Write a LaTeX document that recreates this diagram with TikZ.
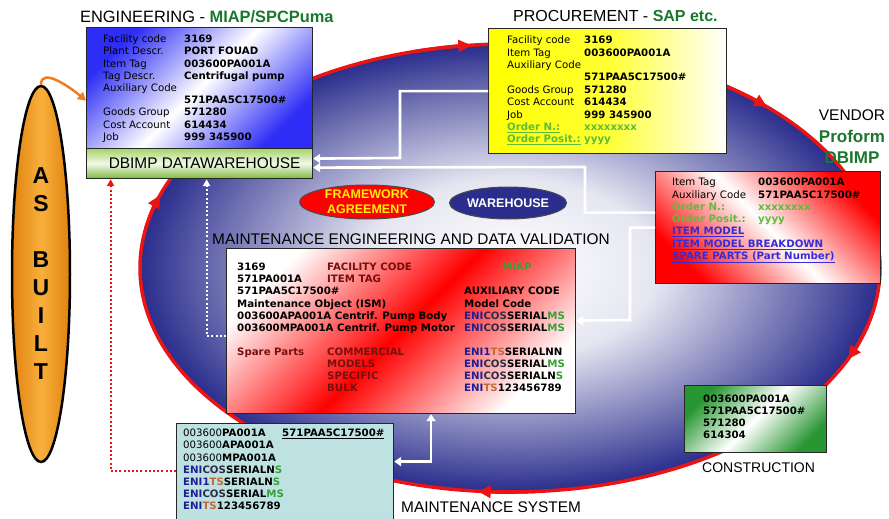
\documentclass[tikz,border=0pt]{standalone}
\usepackage{fontspec}
\setmainfont{DejaVu Sans}
\newfontfamily\headfont{Liberation Sans}
\usetikzlibrary{arrows.meta,shapes.geometric,positioning}

\definecolor{hgreen}{RGB}{25,120,45}
\definecolor{ordgreen}{RGB}{90,190,60}
\definecolor{linkblue}{RGB}{55,45,215}
\definecolor{mrn}{RGB}{120,15,15}
\definecolor{eniblue}{RGB}{30,30,150}
\definecolor{cosgray}{RGB}{45,45,70}
\definecolor{tsorange}{RGB}{195,105,55}
\definecolor{msgreen}{RGB}{55,160,55}
\definecolor{navy}{RGB}{42,45,140}
\definecolor{cyclered}{RGB}{235,20,20}
\definecolor{engblue}{RGB}{45,45,245}
\definecolor{sysblue}{RGB}{190,226,226}
\definecolor{asdark}{RGB}{225,130,15}
\definecolor{aslight}{RGB}{248,175,60}
\definecolor{dbtop}{RGB}{165,212,105}
\definecolor{dbbot}{RGB}{125,185,60}
\definecolor{conskgreen}{RGB}{40,150,50}
\definecolor{asarrow}{RGB}{240,125,30}

\pgfdeclareradialshading{cycleshade}{\pgfpoint{0bp}{0bp}}{color(0bp)=(white); color(10bp)=(white!88!navy); color(20bp)=(navy!70!white); color(25bp)=(navy); color(50bp)=(navy)}

\newcommand{\eni}{\textcolor{eniblue}{ENI}}
\newcommand{\cospart}{\textcolor{cosgray}{COS}}
\newcommand{\tspart}{\textcolor{tsorange}{TS}}
\newcommand{\grn}[1]{\textcolor{msgreen}{#1}}

\tikzset{
  box/.style={draw=black!85, line width=1.2pt, anchor=north west, inner sep=0pt},
  boxtext/.style={anchor=base west, inner sep=0pt, font=\fontsize{10.2}{12.2}\selectfont},
  head/.style={anchor=base west, inner sep=0pt, font=\headfont\fontsize{15.4}{18}\selectfont},
  whitearrow/.style={draw=white, line width=2.6pt, -{Triangle[length=7pt,width=9pt]}},
  cyclearrow/.style={draw=cyclered, line width=3.5pt, -{Triangle[length=13pt,width=12pt]}},
  tag/.style={ellipse, draw=black!70, line width=1pt, inner sep=0pt,
    font=\headfont\bfseries\fontsize{12.5}{15}\selectfont, align=center},
}

\begin{document}
\begin{tikzpicture}[x=1pt, y=-1pt]
    \fill[white] (0,0) rectangle (889,519);
    \useasboundingbox (0,0) rectangle (889,519);

    \shade[shading=cycleshade] (510,268) ellipse[x radius=370, y radius=224];
    \draw[cyclered, line width=3.5pt] (510,268) ellipse[x radius=370, y radius=224];
    \foreach \a in {255,305,15,86,190}
        \draw[cyclearrow] (510,268) ++(\a:370 and 224) arc[start angle=\a, end angle=\a+9, x radius=370, y radius=224];

    \node[ellipse, draw=black, line width=2.5pt, minimum width=58pt, minimum height=376pt,
        left color=asdark, right color=asdark, middle color=aslight, align=center,
        font=\headfont\bfseries\fontsize{23}{28}\selectfont] (asbuilt) at (41,274)
        {A\\S\\[28pt]B\\U\\I\\L\\T};

    \node[head, font=\headfont\fontsize{16.4}{20}\selectfont] (enghead) at (80,23)
        {ENGINEERING - \textcolor{hgreen}{\bfseries MIAP/SPCPuma}};
    \node[box, minimum width=226pt, minimum height=121pt, top color=engblue, bottom color=engblue,
        middle color=white, shading angle=45] (eng) at (86,27) {};
    \node[boxtext] (engtxt) at (103,42.7) {\begin{tabular}[t]{@{}p{81pt}@{}l@{}}
        Facility code & \textbf{3169}\\
        Plant Descr. & \textbf{PORT FOUAD}\\
        Item Tag & \textbf{003600PA001A}\\
        Tag Descr. & \textbf{Centrifugal pump}\\
        Auxiliary Code & \\
         & \textbf{571PAA5C17500\#}\\
        Goods Group & \textbf{571280}\\
        Cost Account & \textbf{614434}\\
        Job & \textbf{999 345900}
    \end{tabular}};
    \node[box, minimum width=226pt, minimum height=30pt, top color=dbtop, bottom color=dbbot,
        middle color=white!85!dbtop, font=\headfont\fontsize{15.4}{18}\selectfont] (dbimp) at (86,148)
        {\hspace{10pt}DBIMP DATAWAREHOUSE};

    \node[head, font=\headfont\fontsize{16}{19}\selectfont] (prochead) at (513,22)
        {PROCUREMENT - \textcolor{hgreen}{\bfseries SAP etc.}};
    \node[box, minimum width=238pt, minimum height=125pt, left color=yellow, right color=white,
        middle color=yellow!80!white] (proc) at (488,28) {};
    \node[boxtext, font=\fontsize{10.2}{12.4}\selectfont] (proctxt) at (507,43.7) {\begin{tabular}[t]{@{}p{77pt}@{}l@{}}
        Facility code & \textbf{3169}\\
        Item Tag & \textbf{003600PA001A}\\
        Auxiliary Code & \\
         & \textbf{571PAA5C17500\#}\\
        Goods Group & \textbf{571280}\\
        Cost Account & \textbf{614434}\\
        Job & \textbf{999 345900}\\
        \textcolor{ordgreen}{\bfseries\underline{Order N.:}} & \textcolor{ordgreen}{\bfseries xxxxxxxx}\\
        \textcolor{ordgreen}{\bfseries\underline{Order Posit.:}} & \textcolor{ordgreen}{\bfseries yyyy}
    \end{tabular}};

    \node[anchor=base, inner sep=0pt, font=\headfont\fontsize{15.5}{18}\selectfont] (vendhead) at (852,121) {VENDOR};
    \node[anchor=base, inner sep=0pt, font=\headfont\bfseries\fontsize{17}{20}\selectfont, text=hgreen] (proform) at (852,142) {Proform};
    \node[anchor=base, inner sep=0pt, font=\headfont\bfseries\fontsize{17}{20}\selectfont, text=hgreen] (vendimp) at (852,163) {DBIMP};
    \node[box, minimum width=225pt, minimum height=112pt, top color=red, bottom color=red,
        middle color=white, shading angle=-45] (vendor) at (655,171) {};
    \node[boxtext, font=\fontsize{10.2}{12.3}\selectfont] (vendtxt) at (672,185.7) {\begin{tabular}[t]{@{}p{86pt}@{}l@{}}
        Item Tag & \textbf{003600PA001A}\\
        Auxiliary Code & \textbf{571PAA5C17500\#}\\
        \textcolor{ordgreen}{\bfseries Order N.:} & \textcolor{ordgreen}{\bfseries xxxxxxxx}\\
        \textcolor{ordgreen}{\bfseries Order Posit.:} & \textcolor{ordgreen}{\bfseries yyyy}\\
        \multicolumn{2}{@{}l@{}}{\textcolor{linkblue}{\bfseries\underline{ITEM MODEL}}}\\
        \multicolumn{2}{@{}l@{}}{\textcolor{linkblue}{\bfseries\underline{ITEM MODEL BREAKDOWN}}}\\
        \multicolumn{2}{@{}l@{}}{\textcolor{linkblue}{\bfseries\underline{SPARE PARTS (Part Number)}}}
    \end{tabular}};

    \node[tag, fill=red, text=yellow, minimum width=135pt, minimum height=34pt] (frame) at (367,202)
        {FRAMEWORK\\AGREEMENT};
    \node[tag, fill=navy, text=white, minimum width=117pt, minimum height=32pt] (store) at (508,203)
        {WAREHOUSE};

    \node[head] (mainthead) at (212,244) {MAINTENANCE ENGINEERING AND DATA VALIDATION};
    \node[box, minimum width=349pt, minimum height=165pt, top color=white, bottom color=white,
        middle color=red, shading angle=45] (maint) at (226,248) {};
    \node[boxtext, font=\bfseries\fontsize{10.2}{12.1}\selectfont] (mainttxt) at (237,270.7) {\begin{tabular}[t]{@{}p{90pt}@{}p{137pt}@{}l@{}}
        3169 & \textcolor{mrn}{FACILITY CODE} & \hspace{38pt}\grn{MIAP}\\
        571PA001A & \textcolor{mrn}{ITEM TAG} & \\
        571PAA5C17500\# & & AUXILIARY CODE\\
        \multicolumn{2}{@{}l@{}}{Maintenance Object (ISM)} & Model Code\\
        \multicolumn{2}{@{}l@{}}{003600APA001A Centrif. Pump Body} & \eni\cospart SERIAL\grn{MS}\\
        \multicolumn{2}{@{}l@{}}{003600MPA001A Centrif. Pump Motor} & \eni\cospart SERIAL\grn{MS}\\
         & & \\
        \textcolor{mrn}{Spare Parts} & \textcolor{mrn}{COMMERCIAL} & \textcolor{eniblue}{ENI1}\tspart SERIALNN\\
         & \textcolor{mrn}{MODELS} & \eni\cospart SERIAL\grn{MS}\\
         & \textcolor{mrn}{SPECIFIC} & \eni\cospart SERIALN\grn{S}\\
         & \textcolor{mrn}{BULK} & \eni\tspart 123456789
    \end{tabular}};

    \node[box, minimum width=217pt, minimum height=100pt, fill=sysblue] (msys) at (176,423) {};
    \node[boxtext] (msystxt) at (183,436.7) {\begin{tabular}[t]{@{}p{99pt}@{}l@{}}
        003600\textbf{PA001A} & \textbf{\underline{571PAA5C17500\#}}\\
        003600\textbf{APA001A} & \\
        003600\textbf{MPA001A} & \\
        \textbf{\eni\cospart SERIALN\grn{S}} & \\
        \textbf{\textcolor{eniblue}{ENI1}\tspart SERIALN\grn{S}} & \\
        \textbf{\eni\cospart SERIAL\grn{MS}} & \\
        \textbf{\eni\tspart 123456789} &
    \end{tabular}};
    \node[head] (msyshead) at (401,512) {MAINTENANCE SYSTEM};

    \node[box, minimum width=142pt, minimum height=67pt, top color=conskgreen, bottom color=conskgreen,
        middle color=white, shading angle=45] (cons) at (684,385) {};
    \node[boxtext, font=\bfseries\fontsize{10.2}{12}\selectfont] (constxt) at (703,402.7) {\begin{tabular}[t]{@{}l@{}}
        003600PA001A\\
        571PAA5C17500\#\\
        571280\\
        614304
    \end{tabular}};
    \node[head, font=\headfont\fontsize{14}{17}\selectfont] (conshead) at (702,472) {CONSTRUCTION};

    \draw[asarrow, line width=2.5pt, -{Triangle[length=8pt,width=9pt]}] (asbuilt.north) to[out=90, in=140] ([yshift=-12.5pt]eng.west);
    \draw[cyclered, line width=2pt, dash pattern=on 2pt off 2.2pt, -{Triangle[length=7pt,width=7pt]}] ([yshift=3pt]msys.west) -| ([xshift=-89pt]dbimp.south);
    \draw[white, line width=2pt, dash pattern=on 2pt off 2.2pt, -{Triangle[length=7pt,width=7pt]}] ([yshift=-4.5pt]maint.west) -| ([xshift=7pt]dbimp.south);

    \draw[whitearrow] (proc.west) -| (400,158) -- ([yshift=5pt]dbimp.east);
    \draw[whitearrow] ([yshift=15pt]vendor.west) -| (585,167) -- ([yshift=-4pt]dbimp.east);
    \draw[whitearrow] (vendor.west) -| (630,320) -- ([yshift=10.5pt]maint.east);
    \draw[whitearrow, {Triangle[length=7pt,width=9pt]}-{Triangle[length=7pt,width=9pt]}] ([xshift=30pt]maint.south) |- ([yshift=12pt]msys.east);
\end{tikzpicture}
\end{document}
